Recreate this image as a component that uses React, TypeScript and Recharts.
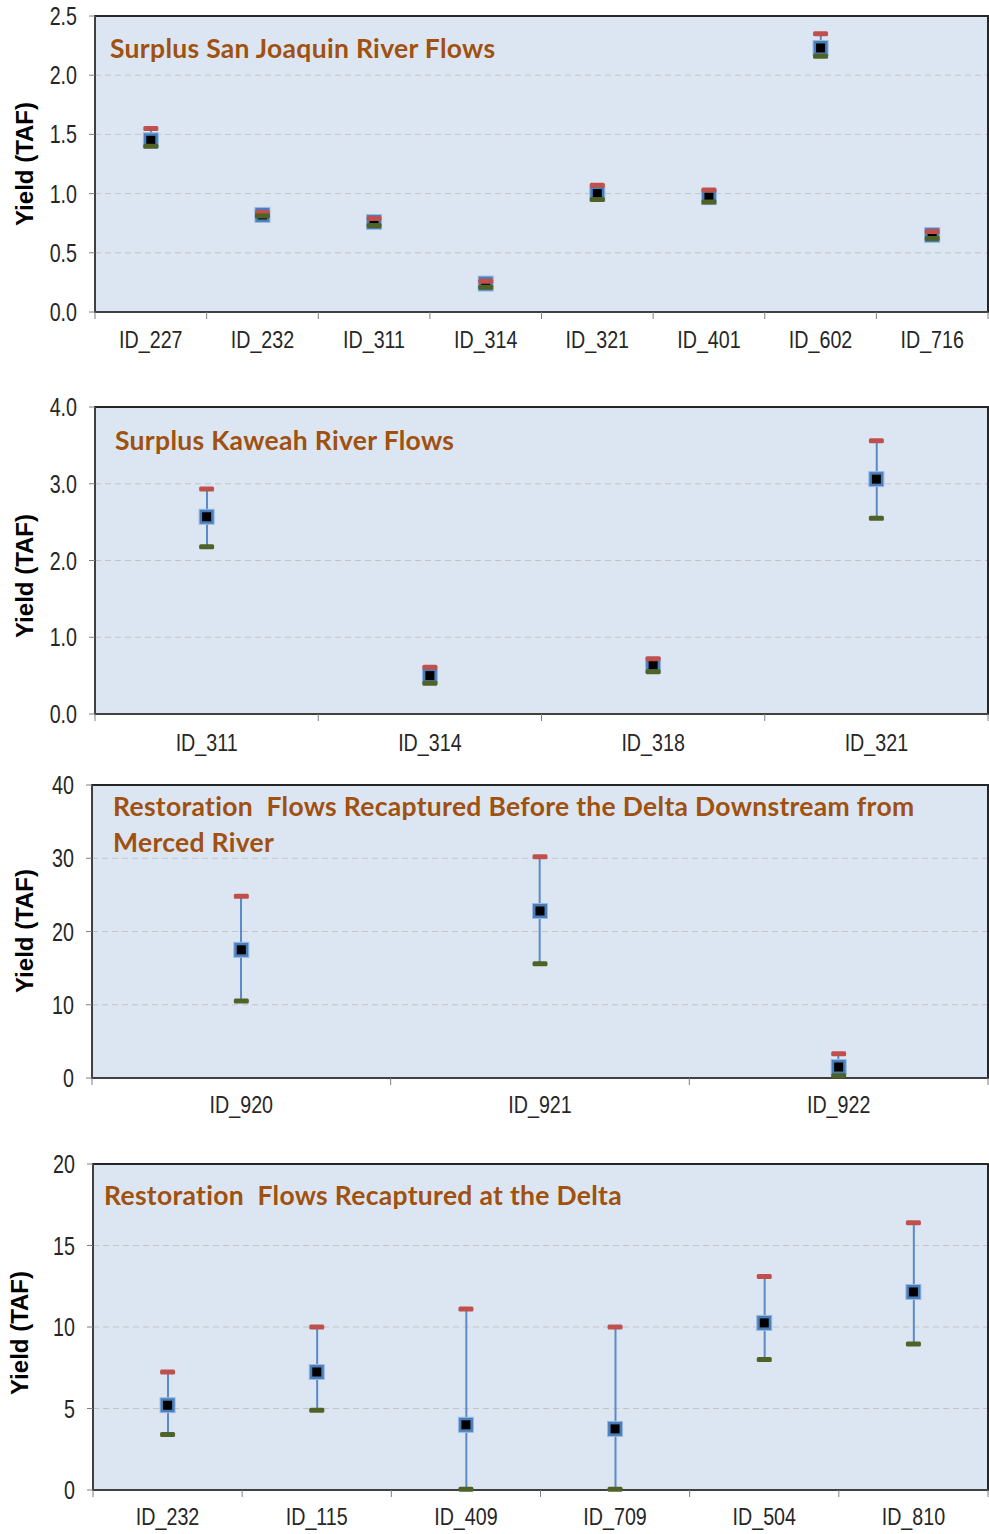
import React from 'react'
import { ComposedChart, XAxis, YAxis, CartesianGrid, Scatter, Bar, ReferenceArea } from 'recharts'

// Surplus San Joaquin River Flows
const ids1 = ['ID_227', 'ID_232', 'ID_311', 'ID_314', 'ID_321', 'ID_401', 'ID_602', 'ID_716']
const max1 = [1.55, 0.84, 0.79, 0.26, 1.07, 1.03, 2.35, 0.68]
const mean1 = [1.45, 0.82, 0.76, 0.24, 1.0, 0.97, 2.23, 0.65]
const min1 = [1.4, 0.81, 0.73, 0.21, 0.95, 0.93, 2.16, 0.62]
const ticks1 = [0, 0.5, 1.0, 1.5, 2.0, 2.5]

// Surplus Kaweah River Flows
const ids2 = ['ID_311', 'ID_314', 'ID_318', 'ID_321']
const max2 = [2.93, 0.61, 0.72, 3.56]
const mean2 = [2.57, 0.5, 0.64, 3.06]
const min2 = [2.18, 0.4, 0.55, 2.55]
const ticks2 = [0, 1, 2, 3, 4]

// Restoration Flows Recaptured Before the Delta Downstream from Merced River
const ids3 = ['ID_920', 'ID_921', 'ID_922']
const max3 = [24.8, 30.2, 3.3]
const mean3 = [17.5, 22.8, 1.5]
const min3 = [10.5, 15.6, 0.3]
const ticks3 = [0, 10, 20, 30, 40]

// Restoration Flows Recaptured at the Delta
const ids4 = ['ID_232', 'ID_115', 'ID_409', 'ID_709', 'ID_504', 'ID_810']
const max4 = [7.24, 10.0, 11.1, 10.0, 13.1, 16.4]
const mean4 = [5.2, 7.24, 4.0, 3.75, 10.25, 12.15]
const min4 = [3.4, 4.9, 0.05, 0.05, 8.0, 8.95]
const ticks4 = [0, 5, 10, 15, 20]

const W = 989
const TITLE_COLOR = '#a0500f'
const ARIAL = '"Liberation Sans", Arial, sans-serif'

const MeanMark = (props: any) => {
  const { cx, cy } = props
  if (cx == null || cy == null) return null
  return (
    <g>
      <rect x={cx - 7.5} y={cy - 7.5} width={15} height={15} fill="#4a7ebb" stroke="#9dbbe0" strokeWidth={1} />
      <rect x={cx - 4.5} y={cy - 4.5} width={9} height={9} fill="#000" />
    </g>
  )
}

const dash = (color: string) => (props: any) => {
  const { cx, cy } = props
  if (cx == null || cy == null) return null
  return <rect x={cx - 7.5} y={cy - 2.5} width={15} height={5} rx={1.5} fill={color} />
}
const MaxMark = dash('#c0504d')
const MinMark = dash('#4f6228')

// condensed Arial look (like Arial Narrow)
const NarrowText = ({ x, y, anchor, children, sy = 1 }: any) => (
  <text
    transform={`translate(${x},${y}) scale(0.82,${sy})`}
    textAnchor={anchor}
    dominantBaseline="central"
    fontSize={24}
    fontFamily={ARIAL}
    fill="#262626"
  >
    {children}
  </text>
)

type PanelProps = {
  top: number
  height: number
  plotTop: number
  plotH: number
  left: number
  ids: string[]
  maxs: number[]
  means: number[]
  mins: number[]
  ticks: number[]
  decimals: number
  title: string[]
  titleX: number
  titleY: number
  yTitleX: number
  yTitleY: number
  labelDy: number
}

function Panel(p: PanelProps) {
  const data = p.ids.map((id, i) => ({ id, max: p.maxs[i], mean: p.means[i], min: p.mins[i] }))
  const n = p.ids.length
  const right = 1
  const bw = (W - p.left - right) / n
  const yMax = p.ticks[p.ticks.length - 1]
  const xAxisH = p.height - p.plotTop - p.plotH

  const XTick = (t: any) => {
    const { x, y, payload, index } = t
    return (
      <g>
        <line x1={x - bw / 2} x2={x - bw / 2} y1={y} y2={y + 7} stroke="#7f7f7f" strokeWidth={1} />
        {index === n - 1 && (
          <line x1={x + bw / 2} x2={x + bw / 2} y1={y} y2={y + 7} stroke="#7f7f7f" strokeWidth={1} />
        )}
        <NarrowText x={x} y={y + p.labelDy} anchor="middle">
          {payload.value}
        </NarrowText>
      </g>
    )
  }

  const YTick = (t: any) => {
    const { x, y, payload } = t
    return (
      <NarrowText x={x} y={y} anchor="end" sy={1.1}>
        {Number(payload.value).toFixed(p.decimals)}
      </NarrowText>
    )
  }

  return (
    <div style={{ position: 'absolute', left: 0, top: p.top, width: W, height: p.height }}>
      <ComposedChart width={W} height={p.height} data={data} margin={{ top: p.plotTop, right, left: 0, bottom: 0 }}>
        <CartesianGrid vertical={false} fill="#dce6f2" stroke="#c4c4c4" strokeDasharray="6 4" />
        <XAxis
          dataKey="id"
          height={xAxisH}
          axisLine={{ stroke: '#404040', strokeWidth: 2 }}
          tickLine={false}
          tickSize={0}
          tickMargin={0}
          interval={0}
          tick={XTick}
        />
        <YAxis
          type="number"
          width={p.left}
          domain={[0, yMax]}
          ticks={p.ticks}
          interval={0}
          axisLine={{ stroke: '#404040', strokeWidth: 2 }}
          tickLine={{ stroke: '#7f7f7f' }}
          tickSize={6}
          tickMargin={12}
          tick={YTick}
        />
        <ReferenceArea y1={0} y2={yMax} fill="none" stroke="#262626" strokeWidth={2} />
        <Bar dataKey={(d: any) => [d.min, d.max]} barSize={2} fill="#5b8ac6" isAnimationActive={false} />
        <Scatter dataKey="mean" shape={MeanMark} isAnimationActive={false} />
        <Scatter dataKey="max" shape={MaxMark} isAnimationActive={false} />
        <Scatter dataKey="min" shape={MinMark} isAnimationActive={false} />
      </ComposedChart>
      <div
        style={{
          position: 'absolute',
          left: p.titleX,
          top: p.titleY - 18,
          fontFamily: 'Lato, "Open Sans", sans-serif',
          fontWeight: 700,
          fontSize: 26.5,
          letterSpacing: 0.3,
          lineHeight: '36px',
          color: TITLE_COLOR,
          whiteSpace: 'pre',
        }}
      >
        {p.title.map((t, i) => (
          <div key={i}>{t}</div>
        ))}
      </div>
      <div
        style={{
          position: 'absolute',
          left: p.yTitleX,
          top: p.yTitleY,
          transform: 'translate(-50%, -50%) rotate(-90deg)',
          fontFamily: ARIAL,
          fontWeight: 700,
          fontSize: 24,
          color: '#000',
          whiteSpace: 'nowrap',
        }}
      >
        Yield (TAF)
      </div>
    </div>
  )
}

export default function App() {
  return (
    <div style={{ position: 'absolute', left: 0, top: 0, width: W, height: 1534, background: '#fff' }}>
      <Panel
        top={0}
        height={360}
        plotTop={16}
        plotH={296}
        left={95}
        ids={ids1}
        maxs={max1}
        means={mean1}
        mins={min1}
        ticks={ticks1}
        decimals={1}
        title={['Surplus San Joaquin River Flows']}
        titleX={110}
        titleY={48}
        yTitleX={25}
        yTitleY={164}
        labelDy={28}
      />
      <Panel
        top={390}
        height={370}
        plotTop={17}
        plotH={307}
        left={95}
        ids={ids2}
        maxs={max2}
        means={mean2}
        mins={min2}
        ticks={ticks2}
        decimals={1}
        title={['Surplus Kaweah River Flows']}
        titleX={115}
        titleY={50}
        yTitleX={25}
        yTitleY={186}
        labelDy={29}
      />
      <Panel
        top={770}
        height={360}
        plotTop={15}
        plotH={293}
        left={92}
        ids={ids3}
        maxs={max3}
        means={mean3}
        mins={min3}
        ticks={ticks3}
        decimals={0}
        title={['Restoration  Flows Recaptured Before the Delta Downstream from', 'Merced River']}
        titleX={113}
        titleY={36}
        yTitleX={25}
        yTitleY={161}
        labelDy={27}
      />
      <Panel
        top={1150}
        height={384}
        plotTop={14}
        plotH={326}
        left={93}
        ids={ids4}
        maxs={max4}
        means={mean4}
        mins={min4}
        ticks={ticks4}
        decimals={0}
        title={['Restoration  Flows Recaptured at the Delta']}
        titleX={104}
        titleY={45}
        yTitleX={20}
        yTitleY={183}
        labelDy={27}
      />
    </div>
  )
}
